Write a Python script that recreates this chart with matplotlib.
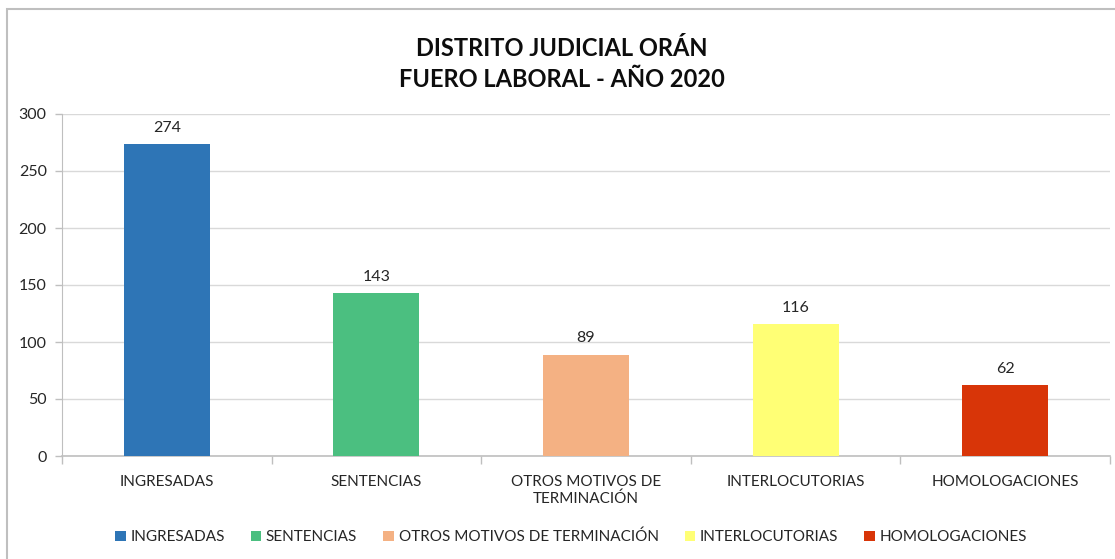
import matplotlib.pyplot as plt
from matplotlib.patches import Patch, Rectangle

categorias = ['INGRESADAS', 'SENTENCIAS', 'OTROS MOTIVOS DE TERMINACIÓN',
              'INTERLOCUTORIAS', 'HOMOLOGACIONES']
etiquetas_x = ['INGRESADAS', 'SENTENCIAS', 'OTROS MOTIVOS DE\nTERMINACIÓN',
               'INTERLOCUTORIAS', 'HOMOLOGACIONES']
valores = [274, 143, 89, 116, 62]
colores = ['#2E75B6', '#4BBF80', '#F4B183', '#FFFF75', '#D83508']

plt.rcParams['font.family'] = ['Lato', 'DejaVu Sans']

fig = plt.figure(figsize=(11.15, 5.59), dpi=100)
# borde del grafico
fig.patches.append(Rectangle((7 / 1115, -0.05), 1.2, 1 - 9 / 559 + 0.05,
                             transform=fig.transFigure, fill=False,
                             edgecolor='#BFBFBF', linewidth=1.5))

ax = fig.add_axes([62 / 1115, 1 - 456 / 559, 1048 / 1115, (456 - 114) / 559])
x = range(len(valores))
ax.bar(x, valores, width=0.41, color=colores, zorder=3)
for i, v in enumerate(valores):
    ax.text(i, v + 8, str(v), ha='center', va='bottom', fontsize=11.5, color='#262626')

ax.set_xlim(-0.5, len(valores) - 0.5)
ax.set_ylim(0, 300)
ax.set_yticks(range(0, 301, 50))
ax.set_xticks(x)
ax.set_xticklabels(etiquetas_x, fontsize=11, color='#262626')
ax.tick_params(axis='x', length=0, pad=14)
ax.tick_params(axis='y', labelsize=11.5, labelcolor='#262626', color='#BFBFBF',
               length=5, width=1, pad=6)
ax.set_xticks([i + 0.5 for i in range(-1, len(valores))], minor=True)
ax.tick_params(axis='x', which='minor', length=6, color='#BFBFBF', width=1)
ax.grid(axis='y', color='#D9D9D9', linewidth=1, zorder=0)
for s in ['top', 'right']:
    ax.spines[s].set_visible(False)
ax.spines['left'].set_color('#BFBFBF')
ax.spines['bottom'].set_color('#BFBFBF')
ax.spines['bottom'].set_linewidth(1.2)

fig.text(562 / 1115, 1 - 64 / 559, 'DISTRITO JUDICIAL ORÁN\nFUERO LABORAL - AÑO 2020',
         ha='center', va='center', fontsize=17, fontweight='bold',
         color='#0D0D0D', linespacing=1.45)

handles = [Patch(facecolor=c, label=l) for c, l in zip(colores, categorias)]
fig.legend(handles=handles, loc='center', bbox_to_anchor=(571 / 1115, 1 - 537 / 559),
           ncol=5, frameon=False, fontsize=11, handlelength=0.7, handleheight=0.7,
           handletextpad=0.3, columnspacing=1.7, labelcolor='#262626')

fig.savefig('out.png', dpi=100)
